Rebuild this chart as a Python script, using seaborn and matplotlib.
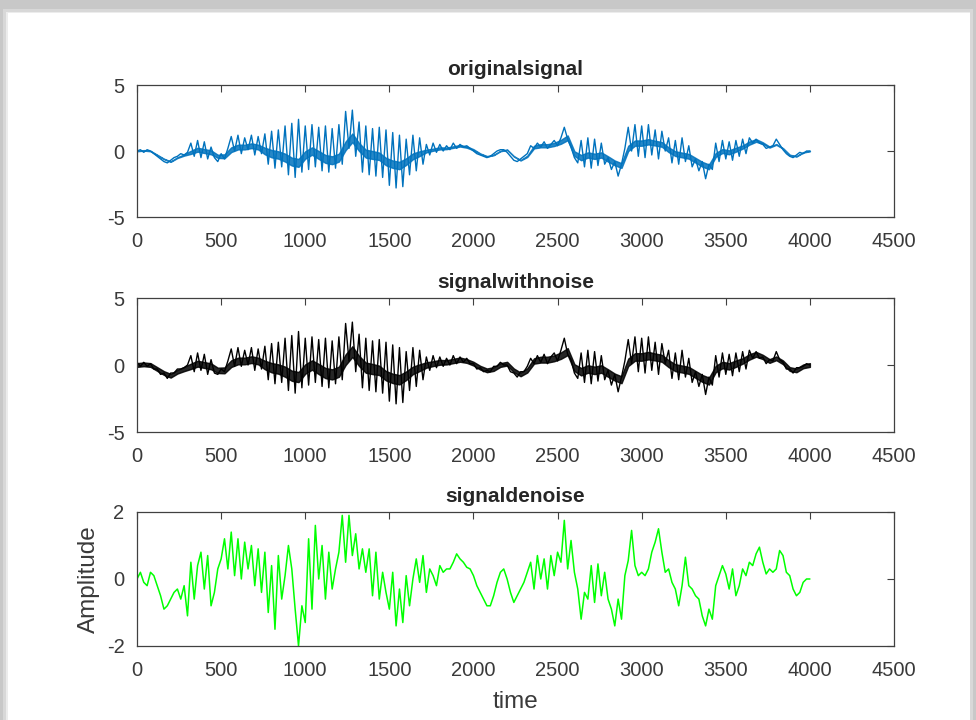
import numpy as np
import matplotlib
matplotlib.use("Agg")
import matplotlib.pyplot as plt
import seaborn as sns
from matplotlib.patches import Rectangle

sns.set_style("white")
plt.rcParams['font.family'] = ['Liberation Sans', 'DejaVu Sans']
plt.rcParams['axes.unicode_minus'] = False

# spike traces, sampled every 20 time steps, 0..4000
original = [
    0.0, 0.1, -0.1, 0.1, 0.0, -0.2,
    -0.4, -0.6, -0.8, -0.9, -0.7,
    -0.5, -0.4, -0.2, -0.3, -0.1,
    0.6, -0.4, 0.8, -0.5, 0.7, -0.6, 0.3,
    -0.5, -0.8, -0.2, -0.6, 0.2,
    1.1, 0.0, 1.2, -0.2, 1.0, 0.1, 1.2, -0.3, 1.1, -0.2,
    1.3, -1.0, 1.5, -1.3, 1.6, -1.2, 1.9,
    -1.8, 2.1, -2.0, 2.4, -1.6,
    1.9, -1.4, 2.0, -1.2,
    1.8, -1.5, 1.9, -1.6, 1.7, -1.3, 2.0, -1.0,
    3.0, 0.2, 3.1, -0.4,
    2.2, -1.6, 1.9, -1.8, 1.7, -1.9, 1.8, -2.0,
    1.6, -2.6, 1.4, -2.8, 1.2, -2.7, 0.9,
    -1.8, 1.2, -1.5, 1.0, -1.0,
    0.5, -0.3, 0.6, -0.1, 0.5, 0.0, 0.4, 0.1, 0.6, 0.2, 0.5, 0.3,
    0.4, 0.2, 0.0, -0.2, -0.3, -0.4, -0.5,
    -0.4, -0.2, 0.0, 0.1, 0.1, -0.1,
    -0.4, -0.7, -0.8, -0.6, -0.4, -0.2,
    0.4, 0.2, 0.6, 0.3, 0.7, 0.2, 0.5, 0.8, 0.4,
    1.0, 1.8, 0.9,
    0.3, -0.5, -0.9,
    0.8, -1.2, 1.0, -1.3, 0.9, -1.1, 0.6, -1.0,
    -0.5, -1.4, -0.8, -1.9, -1.0,
    0.2, 1.8, 0.0, 2.0,
    -0.4, 1.9, -0.5, 2.0, -0.3, 1.6, -0.6, 1.5, 0.0,
    1.0, -0.9, 0.8, -1.0, 1.0, -0.8, 0.4, -1.2,
    -0.6, -1.5, -0.8, -2.1, -1.0, -1.4,
    0.6, -0.8, 0.8, -0.6, 0.7, -0.7, 0.8, -0.4, 0.9, -0.2,
    1.0, 0.6, 0.9, 0.6, 0.5,
    0.2, 0.3, 0.4, 0.9,
    0.5, 0.1, -0.2, -0.4, -0.5,
    -0.3, -0.1, -0.2, 0.0, 0.0,
]

noisy = [
    0.2, -0.1, 0.2, -0.1, 0.1, -0.3,
    -0.3, -0.7, -0.6, -1.0, -0.6,
    -0.6, -0.3, -0.3, -0.2, 0.0,
    0.7, -0.5, 0.9, -0.4, 0.8, -0.7, 0.4,
    -0.6, -0.7, -0.3, -0.5, 0.3,
    1.2, -0.1, 1.3, -0.1, 1.1, 0.0, 1.3, -0.4, 1.2, -0.3,
    1.4, -1.1, 1.6, -1.4, 1.7, -1.3, 2.0,
    -1.9, 2.2, -2.1, 2.5, -1.7,
    2.0, -1.5, 2.1, -1.3,
    1.9, -1.6, 2.0, -1.7, 1.8, -1.4, 2.1, -1.1,
    3.1, 0.3, 3.2, -0.5,
    2.3, -1.7, 2.0, -1.9, 1.8, -2.0, 1.9, -2.1,
    1.7, -2.7, 1.5, -2.9, 1.3, -2.8, 1.0,
    -1.9, 1.3, -1.6, 1.1, -1.1,
    0.6, -0.4, 0.7, -0.2, 0.6, -0.1, 0.5, 0.0, 0.7, 0.1, 0.6, 0.2,
    0.5, 0.1, 0.1, -0.3, -0.2, -0.5, -0.4,
    -0.5, -0.1, -0.1, 0.2, 0.0, 0.0,
    -0.5, -0.6, -0.9, -0.5, -0.5, -0.1,
    0.5, 0.1, 0.7, 0.2, 0.8, 0.1, 0.6, 0.9, 0.3,
    1.1, 2.0, 0.8,
    0.4, -0.6, -1.0,
    0.9, -1.3, 1.1, -1.4, 1.0, -1.2, 0.7, -1.1,
    -0.4, -1.5, -0.7, -2.0, -0.9,
    0.3, 1.9, 0.1, 2.1,
    -0.5, 2.0, -0.6, 2.1, -0.4, 1.7, -0.7, 1.6, 0.1,
    1.1, -1.0, 0.9, -1.1, 1.1, -0.9, 0.5, -1.3,
    -0.5, -1.6, -0.7, -2.2, -0.9, -1.5,
    0.7, -0.9, 0.9, -0.7, 0.8, -0.8, 0.9, -0.5, 1.0, -0.3,
    1.1, 0.5, 1.0, 0.5, 0.6,
    0.1, 0.4, 0.3, 1.0,
    0.4, 0.2, -0.3, -0.3, -0.6,
    -0.2, -0.2, -0.1, 0.1, 0.0,
]

denoised = [
    0.0, 0.2, -0.1, -0.2, 0.2, 0.1,
    -0.2, -0.5, -0.9, -0.8, -0.6,
    -0.4, -0.3, -0.6, -0.2, -1.1,
    0.5, -0.6, 0.4, 0.8, -0.3, 0.7, -0.8,
    -0.4, 0.3, 0.6, 1.2, 0.3,
    1.4, 0.1, 1.2, 0.0, 1.1,
    0.3, 1.0, -0.2, 0.9,
    -0.4, 0.8, -1.0, 0.4,
    -1.5, 0.7, -0.6, 0.1,
    1.0, 0.3, -0.9,
    -2.0, -0.8, -1.3,
    1.2, -0.9, 1.6, 0.0,
    1.0, -0.6, 0.8, -0.3, 0.3,
    0.8, 1.9, 0.5, 1.9, 0.7,
    1.35, 0.3, 0.9, 0.2,
    0.9, -0.5, 0.8, -0.6, 0.2,
    -0.4, -0.9, 0.2, -1.4, -0.3, -1.3, 0.1,
    -0.8, 0.0, 0.6,
    -0.1, 0.7, -0.4, 0.3, 0.1, -0.2, 0.4, 0.2, 0.3, 0.3,
    0.5, 0.75, 0.6, 0.5, 0.35, 0.3,
    0.1, -0.2, -0.4, -0.6, -0.8,
    -0.8, -0.5, -0.1, 0.2, 0.3,
    0.0, -0.4, -0.7, -0.5,
    -0.3, -0.1, 0.2, 0.5,
    -0.3, 0.7, 0.0, 0.6, -0.3, 0.7, 0.1, 0.8,
    0.5, 1.75, 0.3, 1.15,
    0.2, -0.3, -1.2, -0.4, -0.6,
    0.4, -0.7, 0.45, -0.5, 0.2, -0.6,
    -0.9, -1.4, -0.6, -1.2,
    0.1, 0.55, 1.45, 0.4,
    0.1, 0.2, 0.1, 0.3,
    0.8, 1.1, 1.5,
    0.8, 0.2, 0.3, -0.1,
    -0.3, -0.8, -0.2, 0.65, -0.2,
    -0.3, -0.5, -0.6,
    -1.1, -1.4, -0.9, -1.2,
    -0.2, 0.1, 0.4, 0.15,
    -0.3, 0.3, -0.5, -0.2,
    0.3, 0.1, 0.5, 0.4, 0.75,
    0.95, 0.5, 0.15,
    0.3, 0.2, 0.3,
    0.85, 0.7,
    0.2, 0.1, -0.3,
    -0.5, -0.4, -0.1, 0.0, 0.0,
]

# dense core of the two upper traces, sampled every 40 time steps
core_mid = [
    0.0, 0.05, 0.0, -0.3, -0.6, -0.8, -0.5, -0.3, -0.1, 0.1,
    0.0, -0.1, -0.4, -0.4, 0.1, 0.3, 0.3, 0.4, 0.3, 0.0,
    -0.2, -0.3, -0.5, -0.8, -0.9, -0.3, 0.0, -0.3, -0.6, -0.7,
    -0.5, 0.4, 1.0, 0.3, -0.2, -0.3, -0.4, -0.8, -1.0, -1.1,
    -0.8, -0.4, -0.2, 0.0, 0.1, 0.2, 0.2, 0.3, 0.4, 0.3,
    0.1, -0.2, -0.4, -0.3, 0.0, 0.1, -0.4, -0.7, -0.4, 0.3,
    0.4, 0.4, 0.5, 0.7, 1.0, -0.2, -0.5, -0.3, -0.4, -0.3,
    -0.6, -0.9, -1.1, 0.2, 0.6, 0.6, 0.7, 0.6, 0.5, 0.1,
    -0.2, -0.3, -0.4, -0.7, -1.0, -1.2, -0.3, 0.0, -0.1, 0.1,
    0.3, 0.6, 0.8, 0.6, 0.3, 0.5, 0.2, -0.3, -0.4, -0.1,
    0.0,
]
core_width_orig = [
    0.02, 0.02, 0.02, 0.02, 0.02, 0.02, 0.03, 0.05,
    0.12, 0.15, 0.15, 0.15, 0.12, 0.15, 0.18, 0.18, 0.18, 0.18, 0.18,
    0.25, 0.28, 0.28, 0.3, 0.3, 0.3, 0.28, 0.28, 0.3, 0.3, 0.3, 0.3,
    0.33, 0.33, 0.3, 0.3, 0.3, 0.28, 0.28, 0.28, 0.28, 0.25, 0.22, 0.18,
    0.1, 0.08, 0.08, 0.06, 0.06, 0.06, 0.05, 0.04, 0.02, 0.02, 0.02,
    0.02, 0.02, 0.02, 0.02, 0.05,
    0.1, 0.12, 0.12, 0.12, 0.15, 0.18, 0.18, 0.2, 0.2, 0.2, 0.2,
    0.2, 0.18, 0.18, 0.2, 0.2, 0.2, 0.2, 0.18, 0.18, 0.18, 0.18,
    0.18, 0.18, 0.18, 0.18, 0.18, 0.15, 0.15, 0.15, 0.15, 0.12, 0.12,
    0.1, 0.06, 0.04, 0.03, 0.02, 0.02, 0.02, 0.02, 0.02,
]
core_width_noisy = [
    0.14, 0.14, 0.14, 0.14, 0.14, 0.14, 0.14, 0.16,
    0.2, 0.22, 0.22, 0.22, 0.2, 0.22, 0.25, 0.25, 0.25, 0.25, 0.25,
    0.32, 0.35, 0.35, 0.38, 0.38, 0.38, 0.35, 0.35, 0.38, 0.38, 0.38, 0.38,
    0.4, 0.4, 0.38, 0.38, 0.38, 0.35, 0.35, 0.35, 0.35, 0.32, 0.28, 0.25,
    0.2, 0.18, 0.18, 0.16, 0.16, 0.16, 0.14, 0.14, 0.14, 0.14, 0.14,
    0.14, 0.14, 0.14, 0.14, 0.16,
    0.2, 0.22, 0.22, 0.22, 0.24, 0.26, 0.26, 0.28, 0.28, 0.28, 0.28,
    0.28, 0.26, 0.26, 0.28, 0.28, 0.28, 0.28, 0.26, 0.26, 0.26, 0.26,
    0.26, 0.26, 0.26, 0.26, 0.26, 0.24, 0.24, 0.24, 0.24, 0.2, 0.2,
    0.18, 0.16, 0.14, 0.14, 0.14, 0.14, 0.14, 0.14, 0.14,
]

titles = ["originalsignal", "signalwithnoise", "signaldenoise"]
colors = ["#0072BD", "black", "#00FF00"]
ylims = [(-5, 5), (-5, 5), (-2, 2)]
yticks = [[-5, 0, 5], [-5, 0, 5], [-2, 0, 2]]
xticks = [0, 500, 1000, 1500, 2000, 2500, 3000, 3500, 4000, 4500]

fig = plt.figure(figsize=(9.76, 7.2), dpi=100)
fig.patch.set_facecolor("#c8c8c8")
# white window with soft shadow edge
for pad, col in [(3, "#d8d8d8"), (6, "#ececec")]:
    fig.patches.append(Rectangle((pad / 976, 0), 1 - 2 * pad / 976, 1 - (6 + pad) / 720,
                                 transform=fig.transFigure, facecolor=col, edgecolor="none", zorder=-2))
fig.patches.append(Rectangle((8 / 976, 0), 1 - 14 / 976, 1 - 13 / 720,
                             transform=fig.transFigure, facecolor="white", edgecolor="none", zorder=-1))

positions = [
    [0.1404, 0.6986, 0.7756, 0.1833],
    [0.1404, 0.4000, 0.7756, 0.1861],
    [0.1404, 0.1028, 0.7756, 0.1861],
]
bands = [core_width_orig, core_width_noisy, None]

for k, vals in enumerate([original, noisy, denoised]):
    ax = fig.add_axes(positions[k])
    t = np.linspace(0, 4000, len(vals))
    if bands[k] is not None:
        tc = np.linspace(0, 4000, len(core_mid))
        c = np.array(core_mid)
        w = np.array(bands[k])
        ax.fill_between(tc, c - w, c + w, color=colors[k], linewidth=1.0,
                        edgecolor=colors[k], alpha=0.85)
    sns.lineplot(x=t, y=vals, ax=ax, color=colors[k],
                 linewidth=1.0 if k < 2 else 1.1, estimator=None, sort=False)
    ax.set_xlim(0, 4500)
    ax.set_ylim(*ylims[k])
    ax.set_xticks(xticks)
    ax.set_yticks(yticks[k])
    ax.tick_params(direction="in", length=5, width=0.8, top=True, right=True,
                   labelsize=14.5, labelcolor="#3a3a3a", color="#404040")
    ax.tick_params(axis="x", pad=11)
    ax.tick_params(axis="y", pad=9)
    for s in ax.spines.values():
        s.set_color("#404040")
        s.set_linewidth(0.9)
    ax.set_title(titles[k], fontsize=15, fontweight="bold", pad=7)
    ax.set_xlabel("")
    ax.set_ylabel("")

ax.set_xlabel("time", fontsize=17.5, color="#3a3a3a", labelpad=8)
ax.set_ylabel("Amplitude", fontsize=17.5, color="#3a3a3a", labelpad=5)

fig.savefig("out.png", dpi=100)
